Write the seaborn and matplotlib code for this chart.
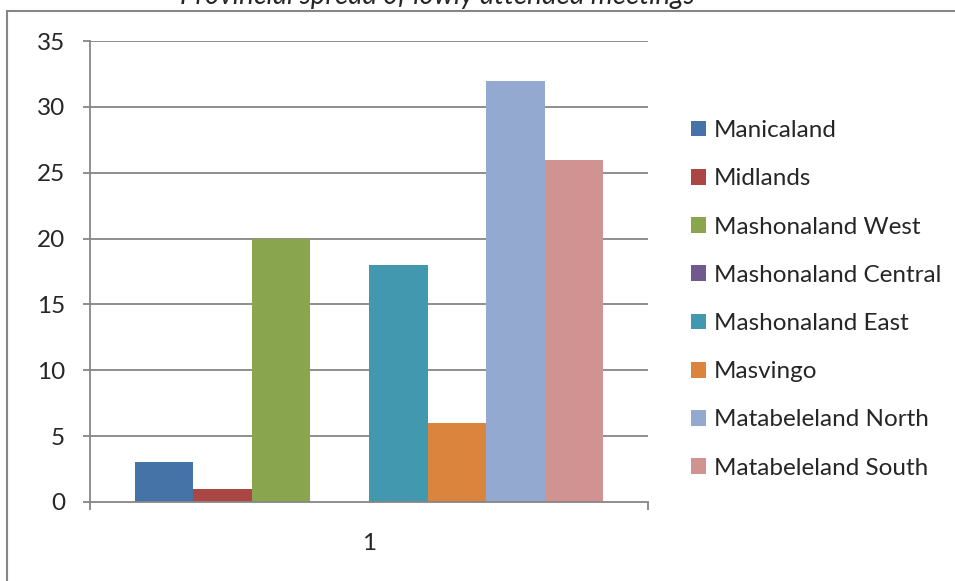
import matplotlib
matplotlib.use("Agg")
import matplotlib.pyplot as plt
import matplotlib.patches as mpatches
import seaborn as sns
import pandas as pd

provinces = ["Manicaland", "Midlands", "Mashonaland West", "Mashonaland Central",
             "Mashonaland East", "Masvingo", "Matabeleland North", "Matabeleland South"]
meetings = [3, 1, 20, 0, 18, 6, 32, 26]
colors = ["#4572A7", "#AA4643", "#89A54E", "#71588F",
          "#4198AF", "#DB843D", "#93A9CF", "#D19392"]
category = ["1"] * len(provinces)
y_ticks = [0, 5, 10, 15, 20, 25, 30, 35]
title = "Provincial spread of lowly attended meetings"

df = pd.DataFrame({"category": category, "province": provinces, "meetings": meetings})

sns.set_theme(style="white")
plt.rcParams["font.family"] = ["Lato", "DejaVu Sans"]

W, H = 955, 581
fig = plt.figure(figsize=(W / 100, H / 100), dpi=100)
ax = fig.add_axes([90 / W, 1 - 502 / H, (648 - 90) / W, (502 - 41) / H])

sns.barplot(data=df, x="category", y="meetings", hue="province",
            hue_order=provinces, palette=colors, saturation=1,
            width=0.839, ax=ax, linewidth=0, errorbar=None)

grid_c = "#868686"
fs = 17.5
ax.set_xlim(-0.5, 0.5)
ax.set_ylim(0, 35)
ax.set_yticks(y_ticks)
ax.set_yticklabels([str(v) for v in y_ticks], fontsize=fs)
for v in y_ticks[1:]:
    ax.axhline(v, color=grid_c, lw=1.3, zorder=0)
ax.tick_params(axis="y", length=5, width=1.3, color=grid_c, pad=13, left=True)

ax.set_xticks([-0.5, 0.5])
ax.set_xticklabels(["", ""])
ax.tick_params(axis="x", which="major", length=6, width=1.3, color=grid_c, bottom=True)
ax.set_xticks([0], minor=True)
ax.set_xticklabels(["1"], minor=True, fontsize=fs)
ax.tick_params(axis="x", which="minor", length=0, pad=22)
ax.set_xlabel("")
ax.set_ylabel("")

for s in ["top", "right"]:
    ax.spines[s].set_visible(False)
for s in ["left", "bottom"]:
    ax.spines[s].set_color(grid_c)
    ax.spines[s].set_linewidth(1.3)

handles, labels = ax.get_legend_handles_labels()
ax.legend(handles, labels, loc="upper left",
          bbox_to_anchor=(679 / W, 1 - 108 / H), bbox_transform=fig.transFigure,
          frameon=False, fontsize=fs, handlelength=0.62, handleheight=0.62,
          handletextpad=0.3, labelspacing=1.12, borderpad=0)

# chart area border
fig.patches.append(mpatches.Rectangle((7 / W, -0.1), 2, 1 - 11 / H + 0.1,
                                      transform=fig.transFigure, fill=False,
                                      edgecolor=grid_c, lw=1.5))
fig.text(437 / W, 1 - 4 / H, title, ha="center", va="baseline",
         fontsize=20, style="italic")

fig.savefig("out.png", dpi=100)
